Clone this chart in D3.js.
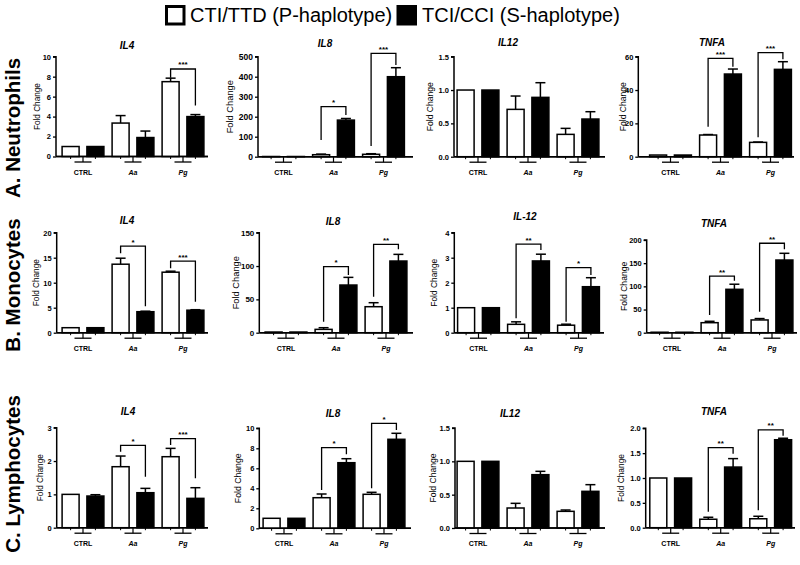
<!DOCTYPE html>
<html><head><meta charset="utf-8">
<script src="https://cdn.jsdelivr.net/npm/d3@7"></script>
<style>body{margin:0;background:#fff}svg{display:block;font-family:"Liberation Sans",Arial,sans-serif}</style>
</head><body><svg id="c" width="800" height="565"></svg>
<script>
// ---------- DATA ----------
const groups = ["CTRL", "Aa", "Pg"];
const seriesNames = ["CTI/TTD (P-haplotype)", "TCI/CCI (S-haplotype)"];
const rowLabels = ["A. Neutrophils", "B. Monocytes", "C. Lymphocytes"];
const titles = [["IL4", "IL8", "IL12", "TNFA"], ["IL4", "IL8", "IL-12", "TNFA"], ["IL4", "IL8", "IL12", "TNFA"]];
const yMax  = [[10, 500, 1.5, 60], [20, 150, 4, 200], [3, 10, 1.5, 2]];
const yStep = [[2, 100, 0.5, 20], [5, 50, 1, 50], [1, 2, 0.5, 0.5]];
// P-haplotype (open bars)
const pMean = [
  [[1, 3.35, 7.5], [1, 10, 12], [1, 0.71, 0.335], [1, 13, 8.6]],
  [[1, 13.7, 12.1], [1, 5, 39], [1, 0.335, 0.3], [1, 21.6, 27.5]],
  [[1, 1.83, 2.13], [1, 3.06, 3.4], [1, 0.3, 0.25], [1, 0.17, 0.18]]
];
const pErr = [
  [[0, 0.75, 0.35], [0, 3, 3], [0, 0.2, 0.09], [0, 0.3, 0.2]],
  [[0, 1.2, 0.2], [0, 2.5, 6], [0, 0.1, 0.04], [0, 3, 3]],
  [[0, 0.32, 0.25], [0, 0.37, 0.2], [0, 0.07, 0.02], [0, 0.04, 0.05]]
];
// S-haplotype (black bars)
const sMean = [
  [[1, 1.9, 4.0], [1, 183, 400], [1, 0.89, 0.565], [1, 49.6, 52.4]],
  [[1, 4.2, 4.5], [1, 71.5, 107.5], [1, 2.87, 1.84], [1, 93.6, 156.8]],
  [[0.95, 1.05, 0.88], [1, 6.56, 8.9], [1, 0.8, 0.55], [1, 1.22, 1.77]]
];
const sErr = [
  [[0, 0.65, 0.2], [0, 8, 45], [0, 0.22, 0.11], [0, 3, 4.6]],
  [[0, 0.1, 0.1], [0, 11.5, 10], [0, 0.27, 0.36], [0, 11, 14.5]],
  [[0.04, 0.13, 0.32], [0, 0.4, 0.6], [0, 0.05, 0.1], [0, 0.17, 0.03]]
];
// significance brackets: [group, stars, top, left-leg end, right-leg end] (data units)
const brackets = [
  [[["Pg", "***", 8.77, 7.9, 5.1]],
   [["Aa", "*", 250, 83, 208], ["Pg", "***", 517, 53, 458]],
   [],
   [["Aa", "***", 59, 18, 54], ["Pg", "***", 62.4, 11.6, 58.4]]],
  [[["Aa", "*", 17.3, 15.9, 5.3], ["Pg", "***", 14.3, 12.9, 6.2]],
   [["Aa", "*", 99, 16.5, 86.5], ["Pg", "**", 132.6, 54, 125]],
   [["Aa", "**", 3.54, 0.575, 3.31], ["Pg", "*", 2.6, 0.44, 2.31]],
   [["Aa", "**", 122, 38, 112], ["Pg", "**", 193, 45, 180]]],
  [[["Aa", "*", 2.47, 2.28, 1.53], ["Pg", "***", 2.67, 2.48, 1.48]],
   [["Aa", "*", 8.06, 3.83, 7.4], ["Pg", "*", 10.5, 4.0, 9.83]],
   [],
   [["Aa", "**", 1.61, 0.32, 1.49], ["Pg", "**", 1.97, 0.35, 1.85]]]
];

// ---------- LAYOUT ----------
const L = {
  axisX:  [[56, 258, 454, 638.3], [56.7, 259.3, 454.3, 646.7], [56.7, 259.3, 455, 645.7]],
  firstC: [[83, 283.5, 478, 670.5], [83, 286, 478.5, 672], [83, 284, 478, 670.7]],
  xEnd:   [[208, 413, 605, 794], [208, 413, 604, 797], [208, 411, 605, 795]],
  yTop:   [[56.7, 56.7, 56.7, 56.7], [232.7, 232.7, 232.7, 240], [427.7, 428.3, 428, 428.3]],
  y0:     [[156.5, 156.7, 156.7, 156.7], [332.7, 332.7, 332.7, 332.7], [527.7, 528.3, 528, 527.7]],
  titleX: [[127, 325, 508, 712], [127, 333, 525, 714], [128, 333, 510, 714]],
  titleY: [[45, 43, 42, 42], [220, 221.7, 216, 223], [411.7, 413.3, 413, 411.7]],
  ylabX:  [[37, 230, 430, 622.5], [36, 236, 433.7, 623.7], [39.7, 238, 433, 620.5]],
  ylabFS: [[8.2, 9.3, 8.6, 8.6], [8.2, 9.3, 8.4, 8.6], [8.2, 8.7, 8.6, 8.4]],
  tickFS: [[7.5, 8.5, 7.5, 7.5], [7.5, 8, 7.5, 7.5], [7.5, 7.5, 7.5, 7.5]],
  rowY:   [128, 285, 474]
};

const svg = d3.select("#c");

// legend
const leg = svg.append("g");
leg.append("rect").attr("x", 166.5).attr("y", 6.5).attr("width", 17.5).attr("height", 17.5)
  .attr("fill", "#fff").attr("stroke", "#000").attr("stroke-width", 3);
leg.append("text").attr("x", 190).attr("y", 22).attr("font-size", 20).text(seriesNames[0]);
leg.append("rect").attr("x", 396.5).attr("y", 5).attr("width", 20.5).attr("height", 20.5).attr("fill", "#000");
leg.append("text").attr("x", 422).attr("y", 22).attr("font-size", 20).text(seriesNames[1]);

// row labels
rowLabels.forEach((t, r) => {
  svg.append("text").attr("transform", `translate(19.5,${L.rowY[r]}) rotate(-90)`)
    .attr("text-anchor", "middle").attr("font-size", 20.5).attr("font-weight", "bold").text(t);
});

const sub = d3.scalePoint().domain(["P", "S"]).range([-12.4, 12.4]);
const barW = 17;

for (let r = 0; r < 3; r++) for (let c = 0; c < 4; c++) {
  const g = svg.append("g");
  const ax = L.axisX[r][c], y0 = L.y0[r][c], yT = L.yTop[r][c];
  const y = d3.scaleLinear().domain([0, yMax[r][c]]).range([y0, yT]);
  const x = d3.scalePoint().domain(groups).range([L.firstC[r][c], L.firstC[r][c] + 100]);
  const step = yStep[r][c];
  const ticks = d3.range(0, yMax[r][c] + step / 2, step);
  const fmt = step < 1 ? d3.format(".1f") : d3.format("d");

  // y axis
  const yAxis = d3.axisLeft(y).tickValues(ticks).tickFormat(fmt).tickSize(3).tickPadding(2);
  const ya = g.append("g").attr("transform", `translate(${ax},0)`).call(yAxis);
  ya.select(".domain").attr("stroke-width", 1.5).attr("d", `M-3,${yT}H0V${y0}`);
  ya.selectAll(".tick line").attr("stroke-width", 1.3);
  ya.selectAll("text").attr("font-size", L.tickFS[r][c]).attr("font-weight", "bold")
    .attr("font-family", "'Liberation Sans',Arial,sans-serif");

  // x axis line
  g.append("line").attr("x1", ax).attr("x2", L.xEnd[r][c]).attr("y1", y0).attr("y2", y0)
    .attr("stroke", "#000").attr("stroke-width", 1.5);

  // group ticks, group lines, labels
  groups.forEach(gr => {
    const cx = x(gr);
    g.append("line").attr("x1", cx).attr("x2", cx).attr("y1", y0).attr("y2", y0 + 5.5)
      .attr("stroke", "#000").attr("stroke-width", 1.2);
    g.append("line").attr("x1", cx - 8.5).attr("x2", cx + 8.5).attr("y1", y0 + 5.5).attr("y2", y0 + 5.5)
      .attr("stroke", "#000").attr("stroke-width", 1.3);
    [-12.4, 12.4].forEach(o => g.append("line").attr("x1", cx + o).attr("x2", cx + o)
      .attr("y1", y0).attr("y2", y0 + 2.5).attr("stroke", "#000").attr("stroke-width", 1));
    g.append("text").attr("x", cx).attr("y", y0 + 18).attr("text-anchor", "middle")
      .attr("font-size", 7).attr("font-weight", "bold")
      .attr("font-style", gr === "CTRL" ? "normal" : "italic").text(gr);
  });

  // bars
  const data = [];
  groups.forEach((gr, i) => {
    data.push({ gr, s: "P", v: pMean[r][c][i], e: pErr[r][c][i] });
    data.push({ gr, s: "S", v: sMean[r][c][i], e: sErr[r][c][i] });
  });
  data.forEach(d => {
    const cx = x(d.gr) + sub(d.s);
    if (d.e > 0) {
      const yt = y(d.v + d.e);
      g.append("line").attr("x1", cx).attr("x2", cx).attr("y1", y(d.v)).attr("y2", yt)
        .attr("stroke", "#000").attr("stroke-width", 1.5);
      g.append("line").attr("x1", cx - 5).attr("x2", cx + 5).attr("y1", yt).attr("y2", yt)
        .attr("stroke", "#000").attr("stroke-width", 1.5);
    }
    g.append("rect").attr("x", cx - barW / 2).attr("y", y(d.v)).attr("width", barW)
      .attr("height", Math.max(0.01, y0 - y(d.v)))
      .attr("fill", d.s === "P" ? "#fff" : "#000").attr("stroke", "#000").attr("stroke-width", 1.5);
  });
  // redraw x axis over bar bottoms
  g.append("line").attr("x1", ax).attr("x2", L.xEnd[r][c]).attr("y1", y0).attr("y2", y0)
    .attr("stroke", "#000").attr("stroke-width", 1.5);

  // brackets
  brackets[r][c].forEach(([gr, stars, top, lv, rv]) => {
    const xl = x(gr) + sub("P"), xr = x(gr) + sub("S");
    g.append("path").attr("d", `M${xl},${y(lv)}V${y(top)}H${xr}V${y(rv)}`)
      .attr("fill", "none").attr("stroke", "#000").attr("stroke-width", 1.3);
    g.append("text").attr("x", (xl + xr) / 2).attr("y", y(top) - 1.5).attr("text-anchor", "middle")
      .attr("font-size", 8).attr("font-weight", "bold").text(stars);
  });

  // title
  g.append("text").attr("x", L.titleX[r][c]).attr("y", L.titleY[r][c] + 3.5).attr("text-anchor", "middle")
    .attr("font-size", 10).attr("font-weight", "bold").attr("font-style", "italic").text(titles[r][c]);
  // y label
  g.append("text").attr("transform", `translate(${L.ylabX[r][c] + 3},${(y0 + yT) / 2}) rotate(-90)`)
    .attr("text-anchor", "middle").attr("font-size", L.ylabFS[r][c]).text("Fold Change");
}
</script></body></html>
